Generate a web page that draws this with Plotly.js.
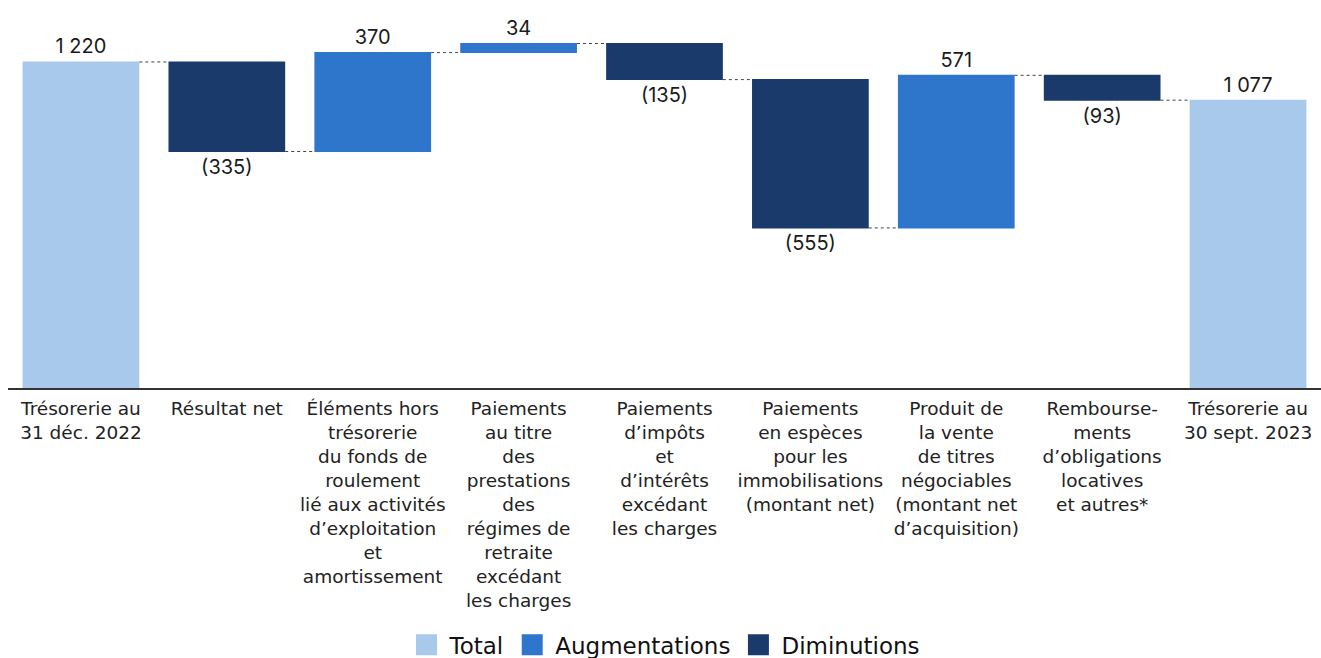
<!DOCTYPE html>
<html>
<head>
<meta charset="utf-8">
<script src="https://cdn.plot.ly/plotly-3.0.1.min.js"></script>
<style>html,body{margin:0;padding:0;background:#fff;}</style>
</head>
<body>
<div id="chart" style="width:1321px;height:658px;"></div>
<script>
var categories = [
  "Trésorerie au<br>31 déc. 2022",
  "Résultat net",
  "Éléments hors<br>trésorerie<br>du fonds de<br>roulement<br>lié aux activités<br>d’exploitation<br>et<br>amortissement",
  "Paiements<br>au titre<br>des<br>prestations<br>des<br>régimes de<br>retraite<br>excédant<br>les charges",
  "Paiements<br>d’impôts<br>et<br>d’intérêts<br>excédant<br>les charges",
  "Paiements<br>en espèces<br>pour les<br>immobilisations<br>(montant net)",
  "Produit de<br>la vente<br>de titres<br>négociables<br>(montant net<br>d’acquisition)",
  "Rembourse-<br>ments<br>d’obligations<br>locatives<br>et autres*",
  "Trésorerie au<br>30 sept. 2023"
];
var values = [1220, -335, 370, 34, -135, -555, 571, -93, 1077];
var measures = ["absolute", "relative", "relative", "relative", "relative", "relative", "relative", "relative", "total"];
var legendNames = ["Total", "Augmentations", "Diminutions"];
var colors = {total: "#a8c8ec", inc: "#2e75cc", dec: "#1a3a6b"};

function fmt(v) {
  var s = String(Math.abs(v)).replace(/\B(?=(\d{3})+(?!\d))/g, " ");
  return v < 0 ? "(" + s + ")" : s;
}

var FONT = "Inter, 'Open Sans', sans-serif";
var WIDE = "'DejaVu Sans', sans-serif";

var traces = [{
  type: "waterfall",
  x: categories,
  y: values,
  measure: measures,
  text: values.map(fmt),
  textposition: "outside",
  textfont: {size: 20, color: "#1a1a1a", family: FONT},
  cliponaxis: false,
  hoverinfo: "skip",
  showlegend: false,
  totals: {marker: {color: colors.total}},
  increasing: {marker: {color: colors.inc}},
  decreasing: {marker: {color: colors.dec}},
  connector: {mode: "between", line: {color: "#444", width: 1, dash: "dot"}}
}];
[colors.total, colors.inc, colors.dec].forEach(function(c, i) {
  traces.push({
    type: "scatter", mode: "markers", x: [null], y: [null],
    name: legendNames[i],
    marker: {symbol: "square", size: 16, color: c, line: {color: c, width: 5}},
    showlegend: true, hoverinfo: "skip"
  });
});

var layout = {
  width: 1321, height: 658,
  margin: {l: 8, r: 0, t: 20, b: 270, autoexpand: false},
  paper_bgcolor: "#fff", plot_bgcolor: "#fff",
  font: {family: FONT, color: "#222"},
  bargap: 0.25,
  showlegend: true,
  legend: {orientation: "h", x: 0.5, xanchor: "center", y: -0.698, yanchor: "middle",
           font: {size: 23, color: "#111", family: WIDE}, itemwidth: 36, tracegroupgap: 0},
  xaxis: {
    type: "category",
    showline: true, linecolor: "#333", linewidth: 1.5,
    ticks: "", showgrid: false, zeroline: false,
    tickfont: {size: 18.5, color: "#222", family: WIDE},
    tickangle: 0, automargin: false, ticklabelstandoff: 3
  },
  yaxis: {
    range: [0, 1377],
    showticklabels: false, showgrid: false, zeroline: false, showline: false, ticks: ""
  }
};

Plotly.newPlot("chart", traces, layout, {displayModeBar: false, staticPlot: true});
</script>
</body>
</html>
